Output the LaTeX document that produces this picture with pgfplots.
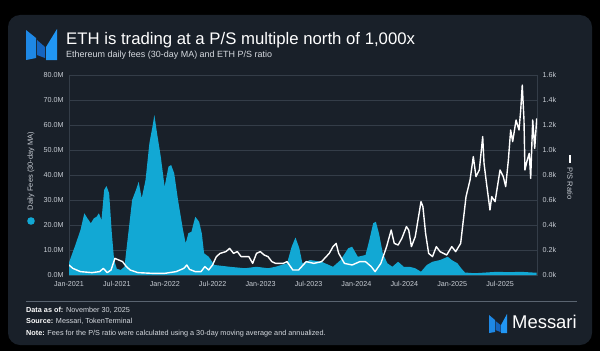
\documentclass[border=0pt]{standalone}
\usepackage{pgfplots}
\pgfplotsset{compat=1.18}
\usepackage{fontspec}
\setmainfont{Liberation Sans}
\definecolor{panel}{RGB}{25,32,41}
\definecolor{feec}{RGB}{18,168,212}
\definecolor{gridc}{RGB}{52,61,72}
\definecolor{tickc}{RGB}{200,205,212}
\definecolor{subc}{RGB}{214,218,224}
\definecolor{sepc}{RGB}{90,100,112}
\definecolor{logoA}{RGB}{30,136,229}
\definecolor{logoB}{RGB}{21,101,192}
\definecolor{logoC}{RGB}{33,150,243}
\begin{document}
\begin{tikzpicture}
\begin{scope}[x=1bp,y=1bp]
\fill[black] (0,0) rectangle (600,351);
\fill[panel, rounded corners=12bp] (8,6) rectangle (592,336);
% logo
\fill[logoA] (26,321) -- (36,313) -- (36,293) -- (26,291) -- cycle;
\fill[logoB] (37,311) -- (45,304) -- (45,293) -- (37,296) -- cycle;
\fill[logoC] (46,304) -- (57,322) -- (57,291) -- (46,291) -- cycle;
% titles
\node[anchor=base west, inner sep=0, text=white, font=\fontsize{16.8}{18}\selectfont] at (66,306.5) {ETH is trading at a P/S multiple north of 1,000x};
\node[anchor=base west, inner sep=0, text=subc, font=\fontsize{9}{10}\selectfont] at (66,293.7) {Ethereum daily fees (30-day MA) and ETH P/S ratio};
% axis labels
\node[rotate=90, inner sep=0, text=tickc, font=\fontsize{7.5}{8}\selectfont] at (31,180) {Daily Fees (30-day MA)};
\fill[feec] (31,130) circle (3.8);
\draw[white, line width=1.3bp] (570,196) -- (570,188);
\node[rotate=-90, inner sep=0, text=tickc, font=\fontsize{7.5}{8}\selectfont] at (570,167.5) {P/S Ratio};
% footer
\draw[sepc, line width=0.6bp] (26,50) -- (577,50);
\node[anchor=base west, inner sep=0, font=\fontsize{7.3}{8}\selectfont] at (26,39) {\textcolor{white}{\textbf{Data as of:}} \textcolor{subc}{November 30, 2025}};
\node[anchor=base west, inner sep=0, font=\fontsize{7.3}{8}\selectfont] at (26,27.5) {\textcolor{white}{\textbf{Source:}} \textcolor{subc}{Messari, TokenTerminal}};
\node[anchor=base west, inner sep=0, font=\fontsize{7.3}{8}\selectfont] at (26,16) {\textcolor{white}{\textbf{Note:}} \textcolor{subc}{Fees for the P/S ratio were calculated using a 30-day moving average and annualized.}};
% Messari wordmark
\fill[logoA] (489,36) -- (495,31) -- (495,19) -- (489,18) -- cycle;
\fill[logoB] (495.5,30) -- (500.5,26) -- (500.5,19) -- (495.5,21) -- cycle;
\fill[logoC] (501,26) -- (507,37) -- (507,18) -- (501,18) -- cycle;
\node[anchor=base west, inner sep=0, text=white, font=\fontsize{18.5}{20}\selectfont] at (512,23) {Messari};
\end{scope}

\begin{axis}[
  at={(69bp,76bp)}, anchor=south west,
  width=468bp, height=200bp, scale only axis,
  xmin=2021, xmax=2025.885, ymin=0, ymax=80,
  axis line style={gridc, line width=0.6bp},
  ymajorgrids, grid style={gridc, line width=0.5bp},
  major tick length=0,
  ticklabel style={font=\fontsize{7.2}{8}\selectfont, text=tickc},
  xtick={2021,2021.5,2022,2022.5,2023,2023.5,2024,2024.5,2025,2025.5},
  xticklabels={Jan-2021,Jul-2021,Jan-2022,Jul-2022,Jan-2023,Jul-2023,Jan-2024,Jul-2024,Jan-2025,Jul-2025},
  ytick={0,10,20,30,40,50,60,70,80},
  yticklabels={0.0M,10.0M,20.0M,30.0M,40.0M,50.0M,60.0M,70.0M,80.0M},
  xticklabel style={yshift=-3bp},
  yticklabel style={xshift=-2bp},
]
\addplot[fill=feec, draw=none] table {
2021.000 5
2021.060 11.3
2021.120 18
2021.160 24.7
2021.192 22.7
2021.228 20.7
2021.260 22.7
2021.288 23.3
2021.312 24.7
2021.339 22
2021.367 34
2021.391 35.6
2021.419 32.7
2021.447 16.7
2021.471 6
2021.499 2.5
2021.539 2
2021.579 3.3
2021.619 16.7
2021.659 30
2021.699 34
2021.727 37.3
2021.759 30.7
2021.799 38
2021.839 52.7
2021.871 59.3
2021.891 64
2021.919 56.7
2021.958 47.3
2021.998 35.3
2022.038 43.3
2022.066 44
2022.098 40.7
2022.138 30
2022.190 18
2022.218 12.7
2022.246 16.7
2022.278 17.3
2022.318 23.3
2022.358 21.3
2022.386 16.7
2022.410 8.7
2022.458 7.3
2022.518 4
2022.677 3.3
2022.837 2.7
2022.957 3.3
2023.077 2.7
2023.157 3.3
2023.276 4.7
2023.324 11.3
2023.364 15
2023.404 10.7
2023.436 4.7
2023.516 6
2023.636 5.3
2023.756 3.3
2023.835 6
2023.915 10.7
2023.955 11.3
2024.015 7.3
2024.095 8
2024.135 14
2024.175 20.7
2024.203 21.3
2024.235 16.7
2024.275 8.7
2024.323 4.7
2024.375 3.3
2024.435 5.3
2024.494 3.3
2024.554 3.3
2024.614 2.7
2024.674 1.3
2024.734 4
2024.794 5.3
2024.874 6
2024.954 7.3
2024.994 6
2025.054 4.7
2025.093 2.7
2025.133 1
2025.233 0.7
2025.353 1
2025.473 1.3
2025.593 1.1
2025.712 1.3
2025.792 1.1
2025.882 0.9
} \closedcycle;
\end{axis}

\begin{axis}[
  at={(69bp,76bp)}, anchor=south west,
  width=468bp, height=200bp, scale only axis,
  xmin=2021, xmax=2025.885, ymin=0, ymax=1600,
  hide x axis,
  axis y line*=right,
  axis line style={gridc, line width=0.6bp},
  major tick length=0,
  ticklabel style={font=\fontsize{7.2}{8}\selectfont, text=tickc},
  ytick={0,200,400,600,800,1000,1200,1400,1600},
  yticklabels={0.0k,0.2k,0.4k,0.6k,0.8k,1.0k,1.2k,1.4k,1.6k},
  yticklabel style={xshift=2bp},
]
\addplot[white, line width=1.4bp, line join=round] table {
2021.000 80
2021.040 53
2021.120 27
2021.240 19
2021.319 27
2021.359 53
2021.399 19
2021.439 40
2021.479 133
2021.519 120
2021.559 107
2021.599 67
2021.639 40
2021.719 19
2021.879 13
2021.998 13
2022.118 27
2022.198 53
2022.230 80
2022.258 45
2022.318 27
2022.378 27
2022.418 67
2022.458 40
2022.498 80
2022.538 147
2022.577 173
2022.637 187
2022.677 213
2022.717 173
2022.757 187
2022.797 147
2022.837 147
2022.877 147
2022.917 93
2022.957 173
2022.997 187
2023.037 160
2023.077 147
2023.117 107
2023.157 93
2023.236 93
2023.276 107
2023.336 40
2023.396 40
2023.476 107
2023.556 93
2023.636 107
2023.716 173
2023.756 227
2023.788 253
2023.815 173
2023.875 93
2023.955 80
2024.035 107
2024.095 107
2024.155 67
2024.195 27
2024.255 93
2024.315 227
2024.363 360
2024.395 253
2024.435 240
2024.474 293
2024.522 387
2024.546 360
2024.574 227
2024.614 307
2024.654 493
2024.674 587
2024.694 547
2024.722 333
2024.754 173
2024.794 147
2024.834 227
2024.873 187
2024.942 160
2024.995 227
2025.036 187
2025.088 253
2025.116 440
2025.144 627
2025.186 760
2025.220 947
2025.248 787
2025.283 840
2025.318 1107
2025.332 893
2025.360 720
2025.394 520
2025.412 627
2025.447 587
2025.499 840
2025.533 787
2025.558 707
2025.586 920
2025.610 1160
2025.631 1067
2025.666 1240
2025.697 1160
2025.715 1320
2025.731 1520
2025.749 1240
2025.759 840
2025.783 920
2025.804 973
2025.819 773
2025.840 1240
2025.861 1013
2025.882 1253
};
\end{axis}
\end{tikzpicture}
\end{document}
